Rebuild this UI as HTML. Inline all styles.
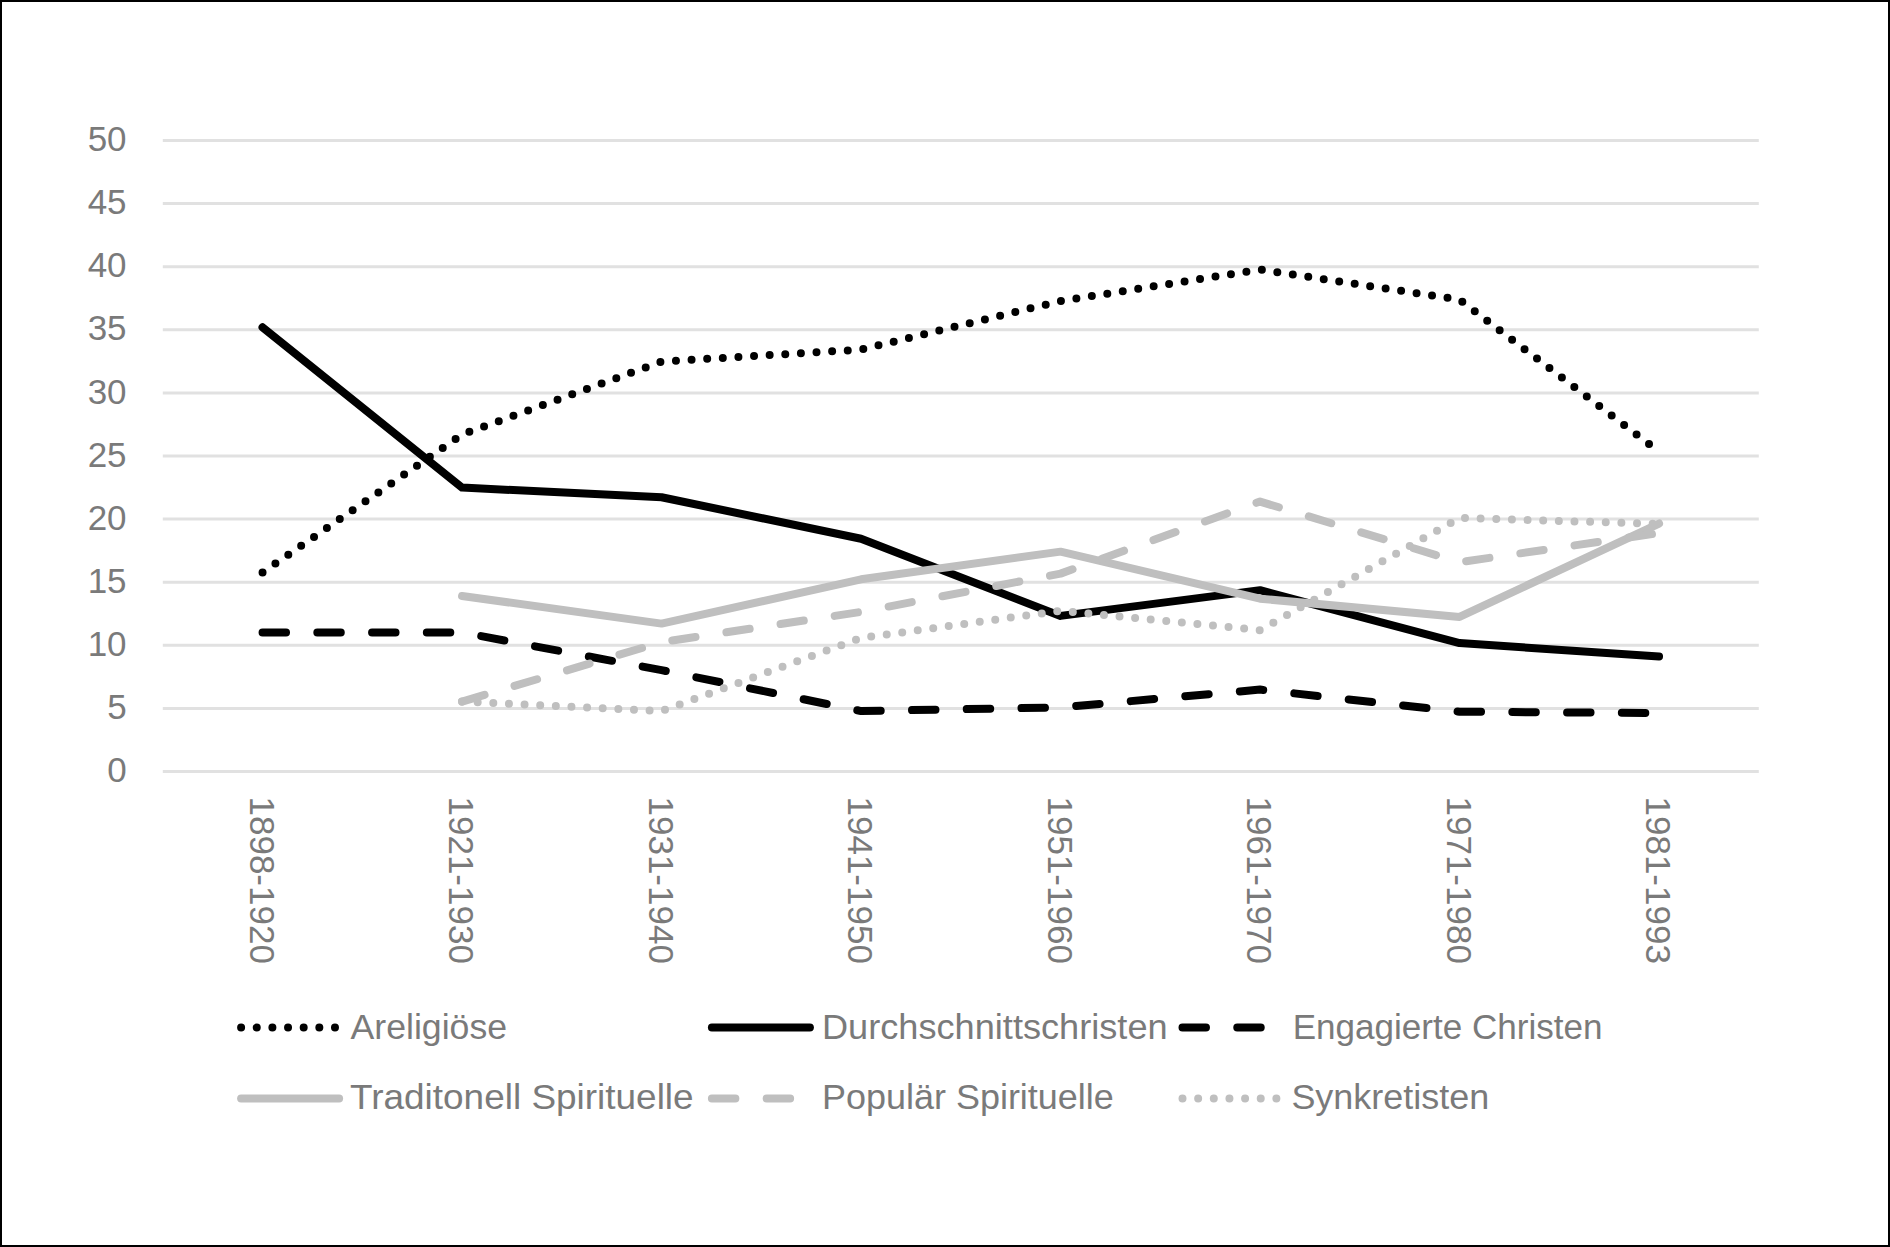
<!DOCTYPE html>
<html lang="de">
<head>
<meta charset="utf-8">
<title>Diagramm</title>
<style>
html,body{margin:0;padding:0;background:#fff;}
body{width:1890px;height:1247px;overflow:hidden;}
.frame{position:absolute;left:0;top:0;width:1890px;height:1247px;box-sizing:border-box;border:2px solid #000;border-bottom-width:2px;}
svg{position:absolute;left:0;top:0;display:block;}
text{font-family:"Liberation Sans",sans-serif;fill:#7a7a7a;}
.ax{font-size:35px;}
.lg{font-size:35px;}
.s{fill:none;stroke-width:8.0;stroke-linecap:round;stroke-linejoin:round;}
</style>
</head>
<body>
<svg width="1890" height="1247" viewBox="0 0 1890 1247">
<rect x="0" y="0" width="1890" height="1247" fill="#fff"/>
<g stroke="#e1e1e1" stroke-width="3">
<line x1="162.8" y1="140.50" x2="1758.8" y2="140.50"/>
<line x1="162.8" y1="203.60" x2="1758.8" y2="203.60"/>
<line x1="162.8" y1="266.70" x2="1758.8" y2="266.70"/>
<line x1="162.8" y1="329.80" x2="1758.8" y2="329.80"/>
<line x1="162.8" y1="392.90" x2="1758.8" y2="392.90"/>
<line x1="162.8" y1="456.00" x2="1758.8" y2="456.00"/>
<line x1="162.8" y1="519.10" x2="1758.8" y2="519.10"/>
<line x1="162.8" y1="582.20" x2="1758.8" y2="582.20"/>
<line x1="162.8" y1="645.30" x2="1758.8" y2="645.30"/>
<line x1="162.8" y1="708.40" x2="1758.8" y2="708.40"/>
<line x1="162.8" y1="771.50" x2="1758.8" y2="771.50"/>
</g>
<g class="ax" text-anchor="end">
<text x="126.6" y="151.10">50</text>
<text x="126.6" y="214.20">45</text>
<text x="126.6" y="277.30">40</text>
<text x="126.6" y="340.40">35</text>
<text x="126.6" y="403.50">30</text>
<text x="126.6" y="466.60">25</text>
<text x="126.6" y="529.70">20</text>
<text x="126.6" y="592.80">15</text>
<text x="126.6" y="655.90">10</text>
<text x="126.6" y="719.00">5</text>
<text x="126.6" y="782.10">0</text>
</g>
<g class="ax">
<text transform="translate(249.95,796.5) rotate(90)">1898-1920</text>
<text transform="translate(449.45,796.5) rotate(90)">1921-1930</text>
<text transform="translate(648.95,796.5) rotate(90)">1931-1940</text>
<text transform="translate(848.45,796.5) rotate(90)">1941-1950</text>
<text transform="translate(1047.95,796.5) rotate(90)">1951-1960</text>
<text transform="translate(1247.45,796.5) rotate(90)">1961-1970</text>
<text transform="translate(1446.95,796.5) rotate(90)">1971-1980</text>
<text transform="translate(1646.45,796.5) rotate(90)">1981-1993</text>
</g>
<polyline class="s" stroke="#000" stroke-dasharray="0 15.646" points="262.55,572.48 462.05,434.55 661.55,361.60 861.05,349.61 1060.55,301.03 1260.05,269.60 1459.55,299.64 1659.05,451.58"/>
<polyline class="s" stroke="#000" points="262.55,327.28 462.05,487.55 661.55,497.27 861.05,538.79 1060.55,615.90 1260.05,590.15 1459.55,643.03 1659.05,656.53"/>
<polyline class="s" stroke="#000" stroke-dasharray="23.47 31.29" points="262.55,632.55 462.05,632.55 661.55,670.16 861.05,711.05 1060.55,707.39 1260.05,689.60 1459.55,711.68 1659.05,713.07"/>
<polyline class="s" stroke="#bfbfbf" points="462.05,595.96 661.55,623.59 861.05,579.30 1060.55,551.66 1260.05,598.73 1459.55,616.90 1659.05,523.52"/>
<polyline class="s" stroke="#bfbfbf" stroke-dasharray="23.47 31.29" points="462.05,701.59 661.55,642.14 861.05,611.86 1060.55,573.62 1260.05,501.56 1459.55,562.26 1659.05,532.98"/>
<polyline class="s" stroke="#bfbfbf" stroke-dasharray="0 15.646" points="462.05,701.59 661.55,711.05 861.05,637.98 1060.55,610.85 1260.05,630.16 1459.55,517.96 1659.05,523.90"/>
<line class="s" stroke="#000" stroke-dasharray="0 15.646" x1="241.1" y1="1027.6" x2="339.1" y2="1027.6"/>
<text class="lg" x="350.5" y="1038.9" textLength="156.6" lengthAdjust="spacingAndGlyphs">Areligiöse</text>
<line class="s" stroke="#000" x1="711.9" y1="1027.6" x2="809.9" y2="1027.6"/>
<text class="lg" x="822.0" y="1038.9" textLength="345.6" lengthAdjust="spacingAndGlyphs">Durchschnittschristen</text>
<line class="s" stroke="#000" stroke-dasharray="23.47 31.29" x1="1182.5" y1="1027.6" x2="1280.5" y2="1027.6"/>
<text class="lg" x="1292.7" y="1038.9" textLength="309.9" lengthAdjust="spacingAndGlyphs">Engagierte Christen</text>
<line class="s" stroke="#bfbfbf" x1="241.1" y1="1098.5" x2="339.1" y2="1098.5"/>
<text class="lg" x="350.0" y="1109.4" textLength="343.6" lengthAdjust="spacingAndGlyphs">Traditonell Spirituelle</text>
<line class="s" stroke="#bfbfbf" stroke-dasharray="23.47 31.29" x1="711.9" y1="1098.5" x2="809.9" y2="1098.5"/>
<text class="lg" x="822.0" y="1109.4" textLength="291.8" lengthAdjust="spacingAndGlyphs">Populär Spirituelle</text>
<line class="s" stroke="#bfbfbf" stroke-dasharray="0 15.646" x1="1182.5" y1="1098.5" x2="1280.5" y2="1098.5"/>
<text class="lg" x="1291.4" y="1109.4" textLength="197.8" lengthAdjust="spacingAndGlyphs">Synkretisten</text>
</svg>
<div class="frame"></div>
</body>
</html>
